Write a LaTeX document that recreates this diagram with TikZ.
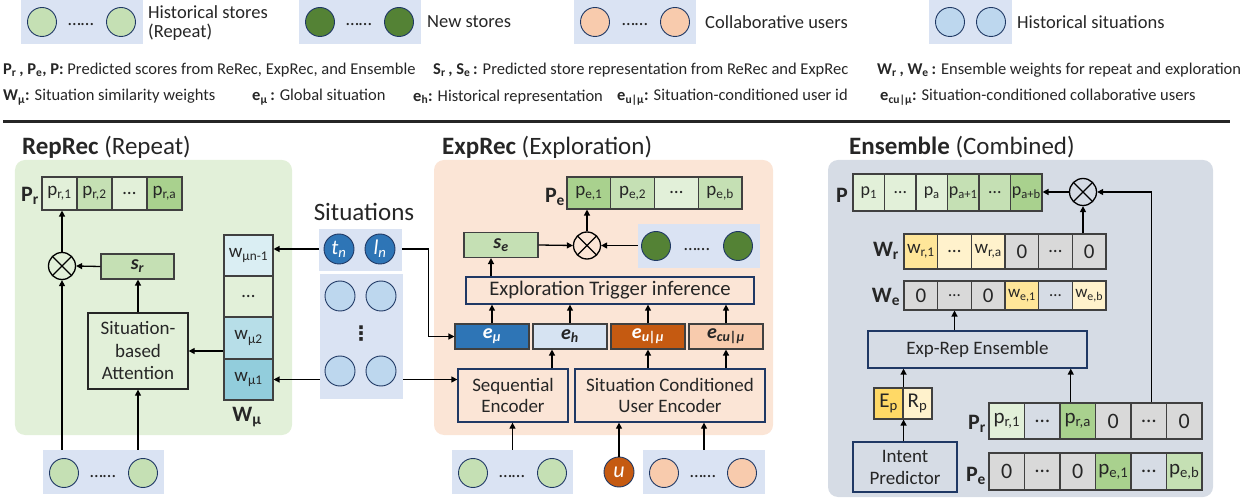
\documentclass[tikz,border=0pt]{standalone}
\usepackage{fontspec}
\setmainfont{Carlito}
\newfontfamily\dejavu{DejaVu Sans}
\usetikzlibrary{arrows.meta}
\definecolor{legbg}{HTML}{DAE3F3}
\definecolor{gpanel}{HTML}{E2F0D9}
\definecolor{opanel}{HTML}{FBE5D6}
\definecolor{epanel}{HTML}{D6DCE5}
\definecolor{gA}{HTML}{E2F0D9}
\definecolor{gB}{HTML}{C5E0B4}
\definecolor{gC}{HTML}{A9D18E}
\definecolor{dgreen}{HTML}{548235}
\definecolor{lorange}{HTML}{F8CBAD}
\definecolor{lblue}{HTML}{BDD7EE}
\definecolor{dblue}{HTML}{2E75B6}
\definecolor{dorange}{HTML}{C55A11}
\definecolor{yA}{HTML}{FFE699}
\definecolor{yB}{HTML}{FFF2CC}
\definecolor{yC}{HTML}{FFD966}
\definecolor{greyc}{HTML}{D9D9D9}
\definecolor{cyA}{HTML}{DAEEF3}
\definecolor{cyB}{HTML}{B7DEE8}
\definecolor{cyC}{HTML}{92CDDC}
\definecolor{ehc}{HTML}{D6E3F2}
\definecolor{navy}{HTML}{1F3864}
\definecolor{cellb}{HTML}{404040}
\definecolor{txt}{HTML}{262626}
\definecolor{rulec}{HTML}{262626}
\begin{document}
\begin{tikzpicture}[x=1bp,y=-1bp,
  every node/.style={inner sep=0pt, text=txt},
  f17/.style={font=\fontsize{16.5bp}{19bp}\selectfont},
  f18/.style={font=\fontsize{18.5bp}{19.5bp}\selectfont},
  f19/.style={font=\fontsize{19bp}{21.5bp}\selectfont},
  f21/.style={font=\fontsize{21bp}{24bp}\selectfont},
  f25/.style={font=\fontsize{25bp}{28bp}\selectfont},
  lbl/.style={font=\fontsize{22bp}{24bp}\selectfont\bfseries},
  legbox/.style={fill=legbg, draw=none, minimum width=#1, minimum height=44bp},
  lcirc/.style={circle, draw=navy, line width=0.9bp, minimum size=29bp},
  panel/.style={rounded corners=10bp, draw=none},
  cell/.style={draw=cellb, line width=1.1bp},
  box/.style={draw=navy, line width=1.3bp},
  arr/.style={-{Triangle[length=6bp,width=6bp]}, line width=1.3bp, draw=black},
  otimes/.style={circle, draw=black, line width=1.3bp, minimum size=27bp,
    path picture={\draw[line width=1.3bp] (path picture bounding box.north west) -- (path picture bounding box.south east)
      (path picture bounding box.north east) -- (path picture bounding box.south west);}},
]
\useasboundingbox (0,0) rectangle (1255,500);

% ---------------- legend ----------------
\node[legbox=122bp] (lg1) at (82,22) {};
\node[lcirc, fill=gB] (lg1a) at (42,22) {};
\node[lcirc, fill=gB] (lg1b) at (121,22) {};
\node[f18] (lg1d) at (81,25) {……};
\node[f18, anchor=west, align=left] (lg1t) at (148,23) {Historical stores\\(Repeat)};

\node[legbox=122bp] (lg2) at (360,22) {};
\node[lcirc, fill=dgreen] (lg2a) at (320,22) {};
\node[lcirc, fill=dgreen] (lg2b) at (399,22) {};
\node[f18] (lg2d) at (359,25) {……};
\node[f18, anchor=west] (lg2t) at (427,22) {New stores};

\node[legbox=122bp] (lg3) at (635,22) {};
\node[lcirc, fill=lorange] (lg3a) at (595,22) {};
\node[lcirc, fill=lorange] (lg3b) at (675,22) {};
\node[f18] (lg3d) at (635,25) {……};
\node[f18, anchor=west] (lg3t) at (705,22) {Collaborative users};

\node[legbox=83bp] (lg4) at (970.5,22) {};
\node[lcirc, fill=lblue] (lg4a) at (950,22) {};
\node[lcirc, fill=lblue] (lg4b) at (991,22) {};
\node[f18, anchor=west] (lg4t) at (1017,22) {Historical situations};

\node[f17, anchor=west] (d1) at (3,70) {\textbf{P\textsubscript{r}\,, P\textsubscript{e}, P:} Predicted scores from ReRec, ExpRec, and Ensemble};
\node[f17, anchor=west] (d2) at (433,70) {\textbf{S\textsubscript{r}\,, S\textsubscript{e}\,:} Predicted store representation from ReRec and ExpRec};
\node[f17, anchor=west] (d3) at (877,70) {\textbf{W\textsubscript{r}\,, W\textsubscript{e}\,:} Ensemble weights for repeat and exploration};
\node[f17, anchor=west] (d4) at (3,97) {\textbf{W\textsubscript{μ}:} Situation similarity weights};
\node[f17, anchor=west] (d5) at (252,97) {\textbf{e\textsubscript{μ}\,:} Global situation};
\node[f17, anchor=west] (d6) at (413,97) {\textbf{e\textsubscript{h}:} Historical representation};
\node[f17, anchor=west] (d7) at (617,97) {\textbf{e\textsubscript{u|μ}:} Situation-conditioned user id};
\node[f17, anchor=west] (d8) at (880,97) {\textbf{e\textsubscript{cu|μ}:} Situation-conditioned collaborative users};
\draw[line width=3bp, rulec] (3,122) -- (1230,122);

% ---------------- RepRec ----------------
\node[panel, fill=gpanel, minimum width=277bp, minimum height=275bp] (gp) at (153.5,297.5) {};
\node[f25, anchor=west] (tr) at (22,147) {\textbf{RepRec} (Repeat)};
\node[lbl] (prl) at (30,196) {P\textsubscript{r}};
\foreach \txt/\col [count=\i] in {{p\textsubscript{r,1}}/gA, {p\textsubscript{r,2}}/gB, {…}/gA, {p\textsubscript{r,a}}/gC}
  \node[cell, f19, fill=\col, minimum width=35bp, minimum height=33bp] (rp\i) at ({42+35*(\i-0.5)},193.5) {\txt};
\node[otimes] (ot1) at (62,266) {};
\node[cell, fill=gB, minimum width=73bp, minimum height=25bp, font=\fontsize{20bp}{22bp}\selectfont\bfseries\itshape] (sr) at (137.5,266.5) {s\textsubscript{r}};
\node[draw=txt, line width=1.3bp, minimum width=100bp, minimum height=76bp, align=center, font=\fontsize{19bp}{22.5bp}\selectfont] (att) at (138,351) {Situation-\\based\\Attention};
\node[cell, f19, fill=cyA, minimum width=49bp, minimum height=41bp] (wm4) at (248.5,255.5) {w\textsubscript{μn-1}};
\node[cell, f19, fill=gpanel, minimum width=49bp, minimum height=41bp] (wm3) at (248.5,296.5) {…};
\node[cell, f19, fill=cyB, minimum width=49bp, minimum height=42bp] (wm2) at (248.5,338) {w\textsubscript{μ2}};
\node[cell, f19, fill=cyC, minimum width=49bp, minimum height=41bp] (wm1) at (248.5,379.5) {w\textsubscript{μ1}};
\node[lbl] (wml) at (247,417) {W\textsubscript{μ}};
\node[legbox=121bp] (rbot) at (103.5,472) {};
\node[lcirc, fill=gB] (rb1) at (64,473) {};
\node[lcirc, fill=gB] (rb2) at (143,473) {};
\node[f18] (rbd) at (103,477) {……};

\draw[arr] (rbot.north -| ot1.south) -- (ot1.south);
\draw[arr] (rbot.north -| att.south) -- (att.south);
\draw[arr] (att.north) -- (att.north |- sr.south);
\draw[arr] (sr.west) -- (ot1.east);
\draw[arr] (ot1.north) -- (ot1.north |- rp1.south);
\draw[arr] (wm2.west |- att.east) -- (att.east);

% ---------------- Situations ----------------
\node[f25] (sit) at (364,212) {Situations};
\node[fill=legbg, minimum width=83bp, minimum height=42bp] (st) at (360.5,250) {};
\node[lcirc, fill=dblue, minimum size=30bp, text=white, font=\fontsize{21bp}{22bp}\selectfont\itshape] (tn) at (339,249) {t\textsubscript{n}};
\node[lcirc, fill=dblue, minimum size=30bp, text=white, font=\fontsize{21bp}{22bp}\selectfont\itshape] (ln) at (380,249) {l\textsubscript{n}};
\node[fill=legbg, minimum width=83bp, minimum height=125bp] (hs) at (361.5,336.5) {};
\node[lcirc, fill=lblue, minimum size=30bp] (hs1) at (340,296) {};
\node[lcirc, fill=lblue, minimum size=30bp] (hs2) at (381,296) {};
\node[lcirc, fill=lblue, minimum size=30bp] (hs3) at (340,371) {};
\node[lcirc, fill=lblue, minimum size=30bp] (hs4) at (381,371) {};
\node[font=\fontsize{20bp}{20bp}\dejavu\bfseries] (hsd) at (361,334) {⋮};

\draw[arr] (st.west |- tn) -- (tn -| wm4.east);
\draw[arr] (hs.west |- wm1.east) -- (wm1.east);

% ---------------- ExpRec ----------------
\node[panel, fill=opanel, minimum width=339bp, minimum height=275bp] (op) at (603.5,297.5) {};
\node[f25, anchor=west] (te) at (442,147) {\textbf{ExpRec} (Exploration)};
\node[lbl] (pel) at (555,197) {P\textsubscript{e}};
\foreach \txt/\col [count=\i] in {{p\textsubscript{e,1}}/gC, {p\textsubscript{e,2}}/gB, {…}/gA, {p\textsubscript{e,b}}/gB}
  \node[cell, f19, fill=\col, minimum width=43.75bp, minimum height=32bp] (ep\i) at ({567+43.75*(\i-0.5)},193) {\txt};
\node[otimes] (ot2) at (587,245.5) {};
\node[cell, fill=gB, minimum width=74bp, minimum height=25bp, font=\fontsize{20bp}{22bp}\selectfont\bfseries\itshape] (se) at (501,245) {s\textsubscript{e}};
\node[fill=legbg, minimum width=122bp, minimum height=44bp] (nsb) at (699,246) {};
\node[lcirc, fill=dgreen] (ns1) at (656,246) {};
\node[lcirc, fill=dgreen] (ns2) at (738,246) {};
\node[f18] (nsd) at (697,250) {……};
\node[box, minimum width=288bp, minimum height=27bp, font=\fontsize{20.7bp}{22bp}\selectfont] (eti) at (610,290.5) {Exploration Trigger inference};
\node[cell, fill=dblue, minimum width=74bp, minimum height=25bp, text=white, font=\fontsize{20bp}{22bp}\selectfont\bfseries\itshape] (emu) at (492,336.5) {e\textsubscript{μ}};
\node[cell, fill=ehc, minimum width=74bp, minimum height=25bp, font=\fontsize{20bp}{22bp}\selectfont\bfseries\itshape] (eh) at (570,336.5) {e\textsubscript{h}};
\node[cell, fill=dorange, minimum width=74bp, minimum height=25bp, text=white, font=\fontsize{20bp}{22bp}\selectfont\bfseries\itshape] (eum) at (648,336.5) {e\textsubscript{u|μ}};
\node[cell, fill=lorange, minimum width=74bp, minimum height=25bp, font=\fontsize{20bp}{22bp}\selectfont\bfseries\itshape] (ecu) at (726,336.5) {e\textsubscript{cu|μ}};
\node[box, f19, align=center, minimum width=110bp, minimum height=53bp] (seq) at (513,395.5) {Sequential\\Encoder};
\node[box, f19, align=center, minimum width=190bp, minimum height=53bp] (scue) at (670,395.5) {Situation Conditioned\\User Encoder};
\node[legbox=121bp] (gb) at (512.5,472) {};
\node[lcirc, fill=gB] (gb1) at (473,473) {};
\node[lcirc, fill=gB] (gb2) at (552,473) {};
\node[f18] (gbd) at (512,477) {……};
\node[lcirc, fill=dorange, minimum size=30bp, text=white, font=\fontsize{22bp}{22bp}\selectfont\itshape] (uu) at (619,472) {u};
\node[legbox=122bp] (ob) at (704,472) {};
\node[lcirc, fill=lorange] (ob1) at (664,473) {};
\node[lcirc, fill=lorange] (ob2) at (742,473) {};
\node[f18] (obd) at (703,477) {……};

\draw[arr] (gb.north) -- (gb.north |- seq.south);
\draw[arr] (uu.north) -- (uu.north |- scue.south);
\draw[arr] (ob.north) -- (ob.north |- scue.south);
\draw[arr] ([xshift=39bp]seq.north) -- ([xshift=39bp]seq.north |- eh.south);
\draw[arr] (scue.north -| eum.south) -- (eum.south);
\draw[arr] (scue.north -| ecu.south) -- (ecu.south);
\draw[arr] (emu.north) -- (emu.north |- eti.south);
\draw[arr] (eh.north) -- (eh.north |- eti.south);
\draw[arr] (eum.north) -- (eum.north |- eti.south);
\draw[arr] (ecu.north) -- (ecu.north |- eti.south);
\draw[arr] ([xshift=-10bp]se.south |- eti.north) -- ([xshift=-10bp]se.south);
\draw[arr] (se.east) -- (ot2.west);
\draw[arr] (nsb.west |- ot2.east) -- (ot2.east);
\draw[arr] (ot2.north) -- (ot2.north |- ep1.south);
\draw[arr] (st.east |- ln) -- ++(26,0) |- (emu.west);
\draw[arr] (hs.east |- wm1.east) -- (seq.west |- wm1.east);

% ---------------- Ensemble ----------------
\node[panel, fill=epanel, minimum width=385bp, minimum height=337bp] (enp) at (1020.5,328.5) {};
\node[f25, anchor=west] (tc) at (849,147) {\textbf{Ensemble} (Combined)};
\node[lbl] (pl) at (842,195) {P};
\foreach \txt/\col [count=\i] in {{p\textsubscript{1}}/gA, {…}/gA, {p\textsubscript{a}}/gA, {p\textsubscript{a+1}}/gB, {…}/gB, {p\textsubscript{a+b}}/gC}
  \node[cell, font=\fontsize{18bp}{20bp}\selectfont, fill=\col, minimum width=31.5bp, minimum height=37bp] (pp\i) at ({853+31.5*(\i-0.5)},192.5) {\txt};
\node[otimes] (ot3) at (1083,192) {};
\node[lbl] (wrl) at (886,251) {W\textsubscript{r}};
\foreach \txt/\col [count=\i] in {{w\textsubscript{r,1}}/yA, {…}/yB, {w\textsubscript{r,a}}/yB, {\fontsize{21bp}{22bp}\selectfont 0}/greyc, {…}/greyc, {\fontsize{21bp}{22bp}\selectfont 0}/greyc}
  \node[cell, f19, fill=\col, minimum width=33.67bp, minimum height=35bp] (wr\i) at ({904+33.67*(\i-0.5)},251.5) {\txt};
\node[lbl] (wel) at (886,297) {W\textsubscript{e}};
\foreach \txt/\col [count=\i] in {{\fontsize{21bp}{22bp}\selectfont 0}/greyc, {…}/greyc, {\fontsize{21bp}{22bp}\selectfont 0}/greyc, {w\textsubscript{e,1}}/yA, {…}/epanel, {w\textsubscript{e,b}}/yB}
  \node[cell, font=\fontsize{17bp}{19bp}\selectfont, fill=\col, minimum width=33.67bp, minimum height=29bp] (we\i) at ({904+33.67*(\i-0.5)},295.5) {\txt};
\node[box, f19, minimum width=219bp, minimum height=37bp] (ere) at (977.5,349.5) {Exp-Rep Ensemble};
\node[cell, f21, fill=yC, minimum width=29bp, minimum height=31bp] (epp) at (888.5,403.5) {E\textsubscript{p}};
\node[cell, f21, fill=yB, minimum width=29bp, minimum height=31bp] (rpp) at (917.5,403.5) {R\textsubscript{p}};
\node[box, align=center, font=\fontsize{19bp}{22bp}\selectfont, minimum width=104bp, minimum height=50bp] (ip) at (905,467) {Intent\\Predictor};
\node[lbl] (prl2) at (977,424) {P\textsubscript{r}};
\foreach \txt/\col [count=\i] in {{p\textsubscript{r,1}}/gA, {…}/epanel, {p\textsubscript{r,a}}/gC, {\fontsize{22bp}{22bp}\selectfont 0}/greyc, {…}/greyc, {\fontsize{22bp}{22bp}\selectfont 0}/greyc}
  \node[cell, f21, fill=\col, minimum width=35.5bp, minimum height=36bp] (qr\i) at ({989+35.5*(\i-0.5)},421) {\txt};
\node[lbl] (pel2) at (976,476) {P\textsubscript{e}};
\foreach \txt/\col [count=\i] in {{\fontsize{22bp}{22bp}\selectfont 0}/greyc, {…}/greyc, {\fontsize{22bp}{22bp}\selectfont 0}/greyc, {p\textsubscript{e,1}}/gC, {…}/epanel, {p\textsubscript{e,b}}/gB}
  \node[cell, f21, fill=\col, minimum width=35.5bp, minimum height=37bp] (qe\i) at ({989+35.5*(\i-0.5)},471.5) {\txt};

\draw[arr] (epp.east |- ip.north) -- (epp.south east);
\draw[arr] (epp.north east) -- (epp.north east |- ere.south);
\draw[arr] ([xshift=-7bp]qr3.north) -- ([xshift=-7bp]qr3.north |- ere.south);
\draw[arr] (ere.north -| we2.south) -- (we2.south);
\draw[arr] (ot3.south |- wr6.north) -- (ot3.south);
\draw[arr] ([xshift=3bp]qr5.north) |- (ot3.east);
\draw[arr] (ot3.west) -- (ot3.west -| pp6.east);
\end{tikzpicture}
\end{document}
